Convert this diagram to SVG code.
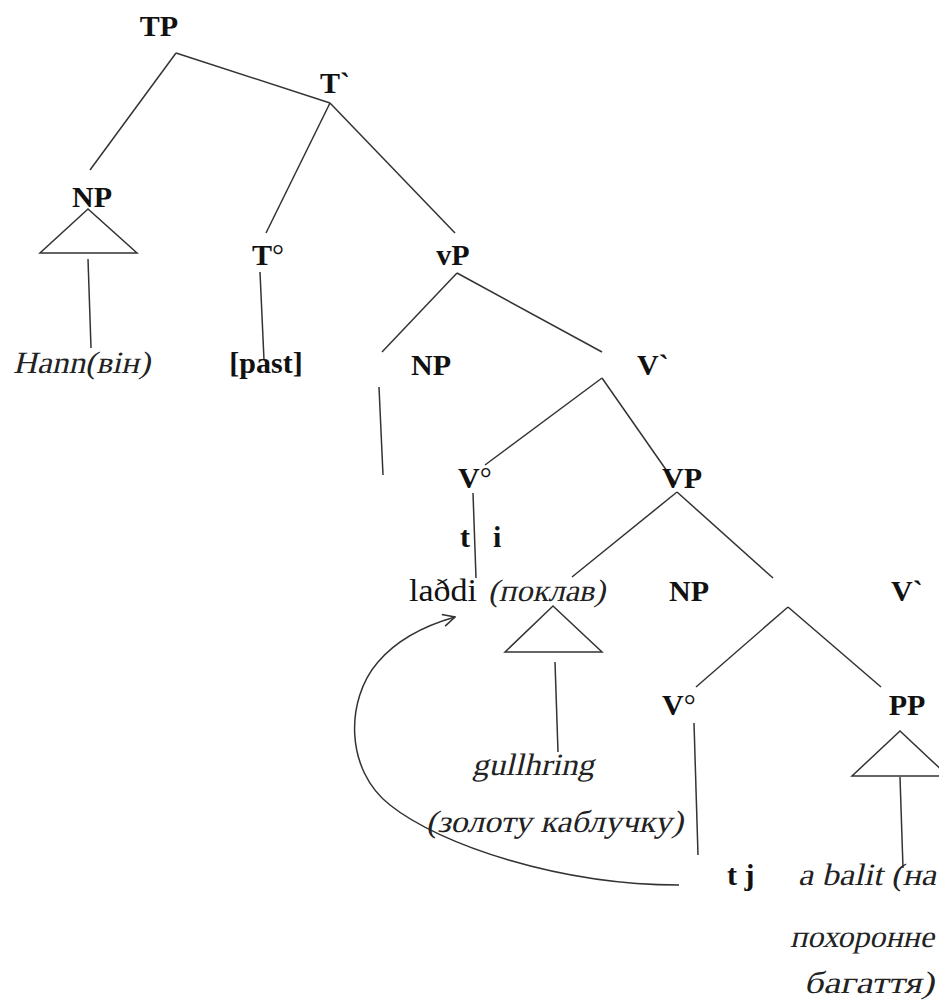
<svg xmlns="http://www.w3.org/2000/svg" width="939" height="1003" viewBox="0 0 939 1003">
<style>
.lbl{font-family:"Liberation Serif","Times New Roman",serif;font-weight:bold;font-size:30px;fill:#111}
.it{font-family:"Liberation Serif","Times New Roman",serif;font-size:31px;fill:#222}
.rg{font-family:"Liberation Serif","Times New Roman",serif;font-size:32px;fill:#111}
.deg{font-weight:normal}
.e{stroke:#333;stroke-width:1.5;fill:none}
</style>
<defs>
<marker id="ah" viewBox="0 0 14 14" refX="13" refY="7" markerWidth="14" markerHeight="14" markerUnits="userSpaceOnUse" orient="auto">
<path d="M1,1 L13,7 L1,13" fill="none" stroke="#333" stroke-width="1.6"/>
</marker>
</defs>
<rect width="939" height="1003" fill="#fff"/>
<g id="connectors">
<line class="e" x1="176" y1="53" x2="90" y2="170"/>
<line class="e" x1="176" y1="53" x2="330" y2="103"/>
<line class="e" x1="330" y1="103" x2="266" y2="233"/>
<line class="e" x1="330" y1="103" x2="455" y2="233"/>
<polygon class="e" points="88,209 40,253 137,253"/>
<line class="e" x1="88" y1="259" x2="91" y2="348"/>
<line class="e" x1="260" y1="272" x2="264" y2="360"/>
<line class="e" x1="457" y1="273" x2="382" y2="352"/>
<line class="e" x1="457" y1="273" x2="602" y2="352"/>
<line class="e" x1="379" y1="387" x2="383" y2="475"/>
<line class="e" x1="602" y1="378" x2="485" y2="465"/>
<line class="e" x1="602" y1="378" x2="676" y2="484"/>
<line class="e" x1="677" y1="492" x2="572" y2="577"/>
<line class="e" x1="677" y1="492" x2="773" y2="578"/>
<line class="e" x1="473" y1="493" x2="476" y2="578"/>
<polygon class="e" points="553,606 505,652 602,652"/>
<line class="e" x1="555" y1="662" x2="558" y2="752"/>
<line class="e" x1="788" y1="607" x2="696" y2="687"/>
<line class="e" x1="788" y1="607" x2="881" y2="687"/>
<line class="e" x1="694" y1="723" x2="698" y2="855"/>
<polygon class="e" points="900,731 852,776 948,776"/>
<line class="e" x1="900" y1="777" x2="903" y2="868"/>
<path class="e" d="M679,885 C560,885 440,845 390,805 C345,770 345,700 378,662 C395,642 420,627 455,617" marker-end="url(#ah)"/>
</g>
<g id="n-TP"><text class="lbl" x="159" y="36" text-anchor="middle">TP</text></g>
<g id="n-Tbar"><text class="lbl" x="320" y="93">T`</text></g>
<g id="n-NP1"><text class="lbl" x="92" y="207" text-anchor="middle">NP</text></g>
<g id="n-T0"><text class="lbl" x="252" y="265">T<tspan class="deg">°</tspan></text></g>
<g id="n-vP"><text class="lbl" x="453" y="265" text-anchor="middle">vP</text></g>
<g id="n-Hann"><text class="it" transform="translate(13,373) skewX(-13)" x="0" y="0" textLength="137" lengthAdjust="spacingAndGlyphs">Hann(він)</text></g>
<g id="n-past"><text class="lbl" x="266" y="373" text-anchor="middle">[past]</text></g>
<g id="n-NP2"><text class="lbl" x="431" y="375" text-anchor="middle">NP</text></g>
<g id="n-Vbar1"><text class="lbl" x="637" y="375">V`</text></g>
<g id="n-V01"><text class="lbl" x="458" y="488">V<tspan class="deg">°</tspan></text></g>
<g id="n-VP"><text class="lbl" x="662" y="488">VP</text></g>
<g id="n-ti"><text class="lbl" x="460" y="547">t</text><text class="lbl" x="493" y="547">i</text></g>
<g id="n-ladi"><text class="rg" x="409" y="601" textLength="68" lengthAdjust="spacingAndGlyphs">laðdi</text><text class="it" transform="translate(488,601) skewX(-13)" x="0" y="0" textLength="117" lengthAdjust="spacingAndGlyphs">(поклав)</text></g>
<g id="n-NP3"><text class="lbl" x="689" y="601" text-anchor="middle">NP</text></g>
<g id="n-Vbar2"><text class="lbl" x="891" y="601">V`</text></g>
<g id="n-V02"><text class="lbl" x="662" y="715">V<tspan class="deg">°</tspan></text></g>
<g id="n-PP"><text class="lbl" x="907" y="715" text-anchor="middle">PP</text></g>
<g id="n-gull"><text class="it" transform="translate(472,775) skewX(-13)" x="0" y="0" textLength="122" lengthAdjust="spacingAndGlyphs">gullhring</text><text class="it" transform="translate(426,832) skewX(-13)" x="0" y="0" textLength="257" lengthAdjust="spacingAndGlyphs">(золоту каблучку)</text></g>
<g id="n-tj"><text class="lbl" x="727" y="885">t j</text></g>
<g id="n-balit"><text class="it" transform="translate(798,885) skewX(-13)" x="0" y="0" textLength="138" lengthAdjust="spacingAndGlyphs">a balit (на</text><text class="it" transform="translate(790,947) skewX(-13)" x="0" y="0" textLength="144" lengthAdjust="spacingAndGlyphs">похоронне</text><text class="it" transform="translate(804,993) skewX(-13)" x="0" y="0" textLength="130" lengthAdjust="spacingAndGlyphs">багаття)</text></g>
</svg>
